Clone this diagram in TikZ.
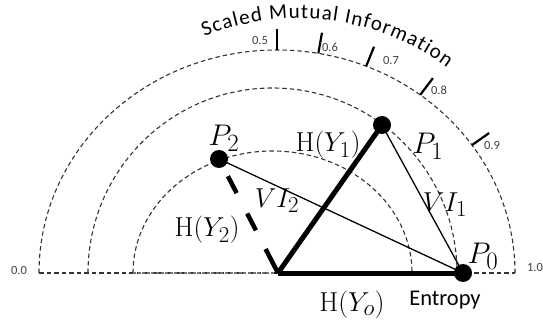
\documentclass[tikz,border=0pt]{standalone}
\usepackage[no-math]{fontspec}
\setmainfont{Carlito}
\usetikzlibrary{calc}
\newcommand{\titlesize}{\fontsize{21}{25}\selectfont}
\begin{document}
\begin{tikzpicture}[x=1pt,y=1pt,
  arcline/.style={black!80, line width=1.1pt, dash pattern=on 4.5pt off 3pt},
  baseseg/.style={black!55, line width=2.4pt, dash pattern=on 3pt off 1.6pt},
  thickline/.style={line width=5pt},
  thinline/.style={line width=1.3pt},
  dashthick/.style={line width=4.5pt, dash pattern=on 27pt off 21pt on 19pt off 23pt on 19pt off 60pt},
  dot/.style={circle, fill=black, inner sep=0pt, minimum size=18pt},
  mlab/.style={font=\fontsize{24.88}{30}\selectfont, inner sep=0pt, scale=1.1, transform shape},
  plab/.style={font=\fontsize{24.88}{30}\selectfont, inner sep=0pt, scale=1.2, transform shape},
  ticklab/.style={font=\fontsize{12.5}{15}\selectfont, text=black!75, inner sep=0pt},
  tickmark/.style={line width=2.2pt},
  titlechar/.style={font=\titlesize, inner sep=0pt, anchor=base},
]
\useasboundingbox (0,0) rectangle (543,324);
% arcs
\draw[arcline] (39,51) arc[start angle=180, end angle=0, x radius=238, y radius=223];
\draw[arcline] (88,51) arc[start angle=180, end angle=0, x radius=184.5, y radius=185];
\draw[arcline] (133,51) arc[start angle=180, end angle=0, x radius=139.5, y radius=122];
\draw[arcline] (39,51) -- (515,51);
\draw[baseseg] (133,51) -- (463,51);
% ticks
\foreach \a in {90,80,68,53,35}
  \draw[tickmark] ($(277,51)+(\a:238 and 223)$) -- ++(\a:21);
% tick labels
\node[ticklab] (t5) at (260,284) {0.5};
\node[ticklab] (t6) at (330,277) {0.6};
\node[ticklab] (t7) at (391,264) {0.7};
\node[ticklab] (t8) at (439,234) {0.8};
\node[ticklab] (t9) at (492,179) {0.9};
\node[ticklab] (t0) at (19,54) {0.0};
\node[ticklab] (t10) at (535,57) {1.0};
% title along arc, one character at a time
\coordinate (TC) at (298,55.5);
\gdef\mypos{0}
\foreach \ch/\w [count=\k] in {S/459,c/423,a/479,l/229,e/498,d/525,{}/226,M/855,u/525,t/335,u/525,a/479,l/229,{}/226,I/252,n/525,f/305,o/527,r/349,m/799,a/479,t/335,i/229,o/527,n/525} {
  \pgfmathsetmacro{\mywid}{\w/1000*21}
  \pgfmathsetmacro{\mymid}{\mypos + \mywid/2}
  \pgfmathsetmacro{\myang}{112 - deg(\mymid/250)}
  \node[titlechar, rotate=\myang-90] (title\k) at ($(TC)+(\myang:250)$) {\ch};
  \pgfmathsetmacro{\mynext}{\mypos + \mywid + 1.15}
  \xdef\mypos{\mynext}
}
% points
\coordinate (O) at (278,51);
\node[dot] (P0) at (463,51) {};
\node[dot] (P1) at (382,199) {};
\node[dot] (P2) at (219,165) {};
% lines
\draw[thickline] (O) -- (P0.center);
\draw[thickline] (O) -- (P1.center);
\draw[dashthick] (O) -- (P2.center);
\draw[thinline] (P2.center) -- (P0.center);
\draw[thinline] (P1.center) -- (P0.center);
% labels
\node[plab] (lP0) at (483,68) {$P_0$};
\node[plab] (lP1) at (428,178) {$P_1$};
\node[plab] (lP2) at (224,186) {$P_2$};
\node[mlab] (lH1) at (328,179) {$\mathrm{H}(Y_1)$};
\node[mlab] (lH2) at (207,94) {$\mathrm{H}(Y_2)$};
\node[mlab] (lHo) at (352,19) {$\mathrm{H}(Y_o)$};
\node[mlab] (lV1) at (445,119) {$VI_1$};
\node[mlab] (lV2) at (277,123) {$VI_2$};
\node[inner sep=0pt, font=\fontsize{22.5}{26}\selectfont] (ent) at (445,24) {Entropy};
\end{tikzpicture}
\end{document}
